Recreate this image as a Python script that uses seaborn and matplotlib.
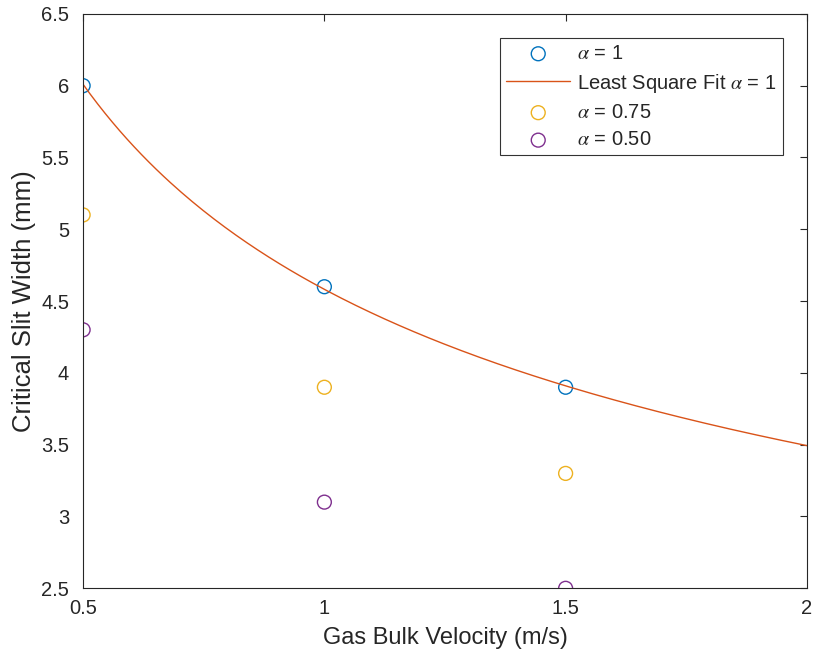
import numpy as np
import pandas as pd
import matplotlib
matplotlib.use('Agg')
import matplotlib.pyplot as plt
import seaborn as sns

# Data
velocity = [0.5, 1.0, 1.5]
width_a100 = [6.0, 4.6, 3.9]
width_a075 = [5.1, 3.9, 3.3]
width_a050 = [4.3, 3.1, 2.5]

# Power-law least-squares fit of the alpha = 1 series (in log space)
b, log_a = np.polyfit(np.log(velocity), np.log(width_a100), 1)
fit_x = np.linspace(0.5, 2.0, 200)
fit_y = np.exp(log_a) * fit_x ** b

sns.set_style('white')
plt.rcParams['font.family'] = ['Liberation Sans', 'DejaVu Sans']
plt.rcParams['mathtext.fontset'] = 'stix'

blue = '#0072BD'
orange = '#D95319'
yellow = '#EDB120'
purple = '#7E2F8E'
txt = '#262626'

fig = plt.figure(figsize=(8.15, 6.61), dpi=100)
ax = fig.add_axes([0.102, 0.110, 0.888, 0.869])

common = dict(marker='o', s=100, facecolors='none', linewidth=1.0, ax=ax)
sns.scatterplot(x=velocity, y=width_a100, edgecolor=blue, label=r'$\alpha$ = 1', **common)
sns.lineplot(x=fit_x, y=fit_y, color=orange, linewidth=1.0,
             label=r'Least Square Fit $\alpha$ = 1', ax=ax)
sns.scatterplot(x=velocity, y=width_a075, edgecolor=yellow, label=r'$\alpha$ = 0.75', **common)
sns.scatterplot(x=velocity, y=width_a050, edgecolor=purple, label=r'$\alpha$ = 0.50', **common)

ax.set_xlim(0.5, 2.0)
ax.set_ylim(2.5, 6.5)
ax.set_xticks([0.5, 1, 1.5, 2])
ax.set_xticklabels(['0.5', '1', '1.5', '2'])
ax.set_yticks([2.5, 3, 3.5, 4, 4.5, 5, 5.5, 6, 6.5])
ax.set_yticklabels(['2.5', '3', '3.5', '4', '4.5', '5', '5.5', '6', '6.5'])
ax.tick_params(direction='in', length=5, width=0.8, colors=txt,
               labelsize=14.5, top=True, right=True, labelcolor=txt)
ax.tick_params(axis='x', pad=8)
ax.tick_params(axis='y', pad=10)
for s in ax.spines.values():
    s.set_color(txt)
    s.set_linewidth(0.8)

ax.set_xlabel('Gas Bulk Velocity (m/s)', fontsize=17, color=txt, labelpad=6)
ax.set_ylabel('Critical Slit Width (mm)', fontsize=18.5, color=txt, labelpad=4)

leg = ax.legend(loc='upper right', bbox_to_anchor=(0.967, 0.958), fontsize=14.5,
                frameon=True, fancybox=False, edgecolor='black',
                borderpad=0.3, handlelength=3.2, handletextpad=0.35,
                labelspacing=0.42, borderaxespad=0)
leg.get_frame().set_linewidth(0.8)

fig.savefig('out.png', dpi=100)
